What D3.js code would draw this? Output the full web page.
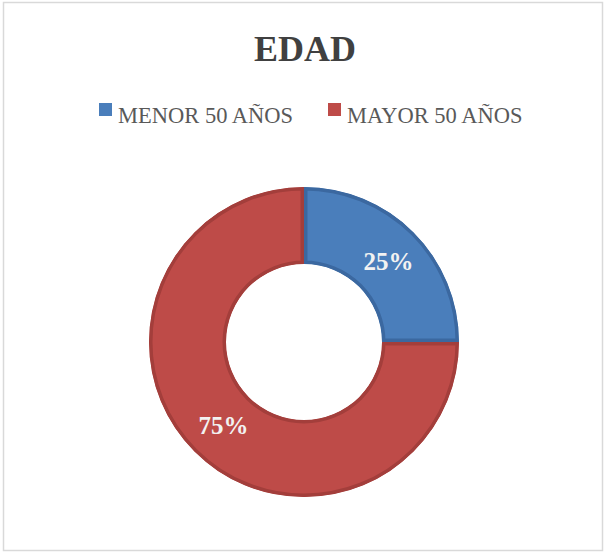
<!DOCTYPE html>
<html>
<head>
<meta charset="utf-8">
<script src="https://cdn.jsdelivr.net/npm/d3@7"></script>
<style>
  body { margin: 0; background: #fff; }
  svg text { font-family: "Liberation Serif", "DejaVu Serif", serif; }
</style>
</head>
<body>
<div id="chart"></div>
<script>
// chart data
var categories = ["MENOR 50 AÑOS", "MAYOR 50 AÑOS"];
var values = [25, 75];
var labels = ["25%", "75%"];
var title = "EDAD";

var colors = ["#4a7ebb", "#be4b48"];
var edgeColors = ["#3b68a0", "#a33e3b"];

var width = 606, height = 553;
var cx = 304, cy = 342, outerR = 155, innerR = 78;

var svg = d3.select("#chart").append("svg")
  .attr("width", width)
  .attr("height", height);

// frame
svg.append("rect")
  .attr("x", 3.5).attr("y", 2.5)
  .attr("width", 599).attr("height", 548)
  .attr("fill", "#fff")
  .attr("stroke", "#d9d9d9")
  .attr("stroke-width", 1.5);

/******** title ********/
svg.append("text")
  .attr("x", 305)
  .attr("y", 61)
  .attr("text-anchor", "middle")
  .style("font-size", "36px")
  .style("font-weight", "bold")
  .style("fill", "#404040")
  .text(title);

/******** legend ********/
var legendX = [99, 328];
var legend = svg.selectAll(".legend")
  .data(categories)
  .enter().append("g")
  .attr("class", "legend")
  .attr("transform", function (d, i) { return "translate(" + legendX[i] + ",103)"; });
legend.append("rect")
  .attr("width", 13).attr("height", 13)
  .attr("fill", function (d, i) { return colors[i]; });
legend.append("text")
  .attr("x", 19)
  .attr("y", 20)
  .style("font-size", "22.5px")
  .style("fill", "#595959")
  .text(function (d) { return d; });

/******** donut ********/
var pie = d3.pie().sort(null).value(function (d) { return d; });
var arc = d3.arc().innerRadius(innerR).outerRadius(outerR);
var labelArc = d3.arc().innerRadius((innerR + outerR) / 2).outerRadius((innerR + outerR) / 2);
var arcs = pie(values);

var g = svg.append("g").attr("transform", "translate(" + cx + "," + cy + ")");
var defs = svg.append("defs");
defs.selectAll("clipPath")
  .data(arcs)
  .enter().append("clipPath")
  .attr("id", function (d, i) { return "clip" + i; })
  .append("path")
  .attr("d", arc);

g.selectAll(".slice")
  .data(arcs)
  .enter().append("path")
  .attr("class", "slice")
  .attr("d", arc)
  .attr("fill", function (d, i) { return colors[i]; })
  .attr("stroke", function (d, i) { return edgeColors[i]; })
  .attr("stroke-width", 7)
  .attr("clip-path", function (d, i) { return "url(#clip" + i + ")"; });

g.selectAll(".lbl")
  .data(arcs)
  .enter().append("text")
  .attr("class", "lbl")
  .attr("transform", function (d) { return "translate(" + labelArc.centroid(d) + ")"; })
  .attr("dy", "0.4em")
  .attr("dx", 2)
  .attr("text-anchor", "middle")
  .style("font-size", "25px")
  .style("font-weight", "bold")
  .style("fill", "#f2f2f2")
  .text(function (d, i) { return labels[i]; });
</script>
</body>
</html>
